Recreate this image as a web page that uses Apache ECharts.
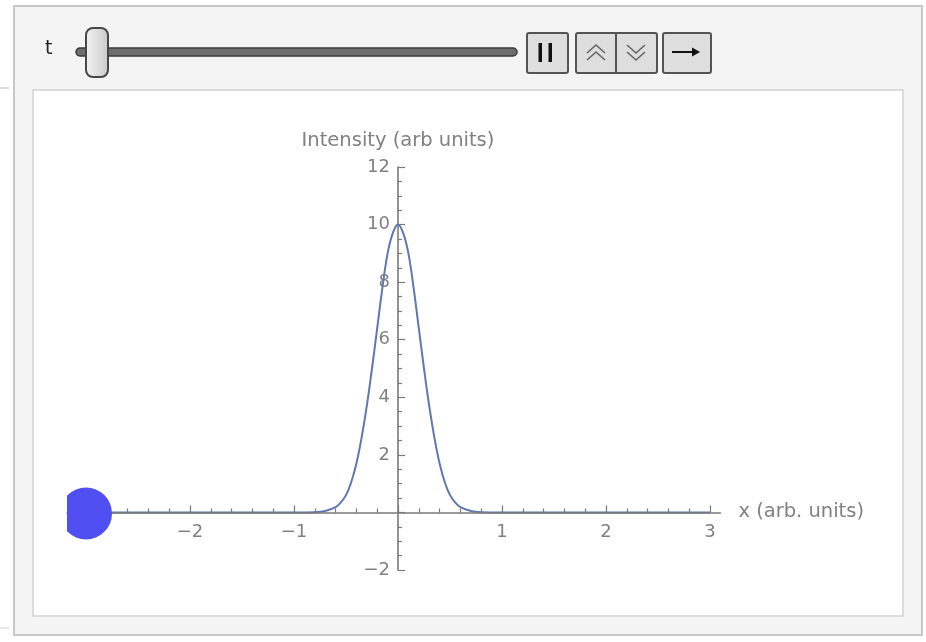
<!DOCTYPE html>
<html>
<head>
<meta charset="utf-8">
<script src="https://cdn.jsdelivr.net/npm/echarts@6/dist/echarts.min.js"></script>
<style>
  html, body { margin: 0; padding: 0; background: #fff; }
  #chart { width: 926px; height: 642px; }
</style>
</head>
<body>
<div id="chart"></div>
<script>
// pulse profile
const xValues = [-3, -1, -0.8, -0.7, -0.6, -0.55, -0.5, -0.45, -0.4, -0.35, -0.3, -0.25, -0.2, -0.15, -0.1, -0.05, 0,
  0.05, 0.1, 0.15, 0.2, 0.25, 0.3, 0.35, 0.4, 0.45, 0.5, 0.55, 0.6, 0.7, 0.8, 1, 3]
const intensity = [0, 0, 0.01, 0.05, 0.18, 0.35, 0.6, 1.05, 1.7, 2.6, 3.7, 5.0, 6.4, 7.8, 9.0, 9.7, 10,
  9.7, 9.0, 7.8, 6.4, 5.0, 3.7, 2.6, 1.7, 1.05, 0.6, 0.35, 0.18, 0.05, 0.01, 0, 0]

// the moving dot (t = 0)
const pointX = [-3]
const pointY = [0]

// ticks and labels
const xMajorTicks = [-3, -2, -1, 0, 1, 2, 3]
const xTickLabels = [-2, -1, 1, 2, 3]
const xMinorTicks = []
for (let i = -15; i <= 15; i++) if (i % 5) xMinorTicks.push(i / 5)
const yTickLabels = [-2, 2, 4, 6, 8, 10, 12]

const xMin = -3.18, xMax = 3.1
const yMin = -2, yMax = 12
const plotLeft = 67.28, plotRight = 720.4, plotTop = 167, plotBottom = 570

// axes cross at the origin, so shift them inward from the grid edges
const yAxisShift = -(plotRight - plotLeft) * (0 - xMin) / (xMax - xMin)
const xAxisShift = -(plotBottom - plotTop) * (0 - yMin) / (yMax - yMin)

const axisGray = '#7a7a7a'
const textGray = '#818181'
const font = 'DejaVu Sans'
const minus = (v) => String(v).replace('-', '\u2212')

const chart = echarts.init(document.getElementById('chart'))

const btn = { fill: '#dedede', stroke: '#545454', lineWidth: 2 }
const chevron = { fill: 'none', stroke: '#666', lineWidth: 1.6 }

const option = {
  animation: false,
  grid: { left: plotLeft, right: 926 - plotRight, top: plotTop, bottom: 642 - plotBottom, outerBoundsMode: 'none' },
  xAxis: [
    {
      type: 'value', min: xMin, max: xMax, position: 'bottom', offset: xAxisShift, z: 4,
      axisLine: { onZero: false, lineStyle: { color: axisGray, width: 1.6 } },
      axisTick: { customValues: xMajorTicks, inside: true, length: 7, lineStyle: { color: axisGray, width: 1.2 } },
      axisLabel: { customValues: xTickLabels, formatter: minus, margin: 11, color: textGray, fontSize: 18, fontFamily: font },
      splitLine: { show: false },
      name: 'x (arb. units)', nameLocation: 'end', nameGap: 18,
      nameTextStyle: { color: textGray, fontSize: 19.5, fontFamily: font }
    },
    {
      type: 'value', min: xMin, max: xMax, position: 'bottom', offset: xAxisShift, z: 4,
      axisLine: { onZero: false, lineStyle: { opacity: 0 } },
      axisTick: { customValues: xMinorTicks, inside: true, length: 4, lineStyle: { color: axisGray, width: 1.2 } },
      axisLabel: { show: false },
      splitLine: { show: false }
    }
  ],
  yAxis: {
    type: 'value', min: yMin, max: yMax, interval: 2, position: 'left', offset: yAxisShift,
    axisLine: { onZero: false, lineStyle: { color: axisGray, width: 1.6 } },
    axisTick: { inside: true, length: 7, lineStyle: { color: axisGray, width: 1.2 } },
    minorTick: { show: true, splitNumber: 4, length: 4, lineStyle: { color: axisGray, width: 1.2 } },
    axisLabel: { customValues: yTickLabels, formatter: minus, margin: 8, color: textGray, fontSize: 18, fontFamily: font },
    splitLine: { show: false },
    name: 'Intensity (arb units)', nameLocation: 'end', nameGap: 16,
    nameTextStyle: { color: textGray, fontSize: 19.5, fontFamily: font }
  },
  series: [
    {
      type: 'line',
      data: xValues.map((x, i) => [x, intensity[i]]),
      showSymbol: false,
      smooth: 0.4,
      lineStyle: { color: '#5f78b2', width: 2 },
      z: 3
    },
    {
      type: 'custom',
      clip: true,
      z: 6,
      data: pointX.map((x, i) => [x, pointY[i]]),
      renderItem: (params, api) => {
        const p = api.coord([api.value(0), api.value(1)])
        return { type: 'circle', shape: { cx: p[0], cy: p[1] + 1, r: 26 }, style: { fill: '#5050f2' } }
      }
    }
  ],
  graphic: [
    // panel and plot frame
    { type: 'rect', z: -10, shape: { x: 14, y: 6, width: 908, height: 629 }, style: { fill: '#f4f4f4', stroke: '#c8c8c8', lineWidth: 2 } },
    { type: 'rect', z: -9, shape: { x: 33, y: 90, width: 870, height: 526 }, style: { fill: '#fff', stroke: '#d2d2d2', lineWidth: 1.5 } },
    { type: 'line', z: -9, shape: { x1: 0, y1: 88, x2: 9, y2: 88 }, style: { stroke: '#d0d0d0', lineWidth: 1.5 } },
    { type: 'line', z: -9, shape: { x1: 0, y1: 628, x2: 9, y2: 628 }, style: { stroke: '#e0e0e0', lineWidth: 1.5 } },

    // t slider
    { type: 'text', z: 10, style: { x: 45, y: 49, text: 't', fill: '#222', font: '19px "DejaVu Sans"', verticalAlign: 'middle' } },
    { type: 'rect', z: 10, shape: { x: 76, y: 48, width: 441, height: 8, r: 4 }, style: { fill: '#6e6e6e', stroke: '#3a3a3a', lineWidth: 1.5 } },
    {
      type: 'rect', z: 11, shape: { x: 86, y: 28, width: 22, height: 49, r: 7 },
      style: {
        fill: new echarts.graphic.LinearGradient(0, 0, 1, 0, [{ offset: 0, color: '#f4f4f4' }, { offset: 1, color: '#c9c9c9' }]),
        stroke: '#474747', lineWidth: 2
      }
    },

    // pause
    { type: 'rect', z: 10, shape: { x: 527, y: 33, width: 41, height: 40, r: 2 }, style: btn },
    { type: 'rect', z: 11, shape: { x: 538.5, y: 43, width: 3.5, height: 19 }, style: { fill: '#111' } },
    { type: 'rect', z: 11, shape: { x: 548.5, y: 43, width: 3.5, height: 19 }, style: { fill: '#111' } },

    // faster / slower
    { type: 'rect', z: 10, shape: { x: 576, y: 33, width: 81, height: 40, r: 2 }, style: btn },
    { type: 'line', z: 11, shape: { x1: 616, y1: 33, x2: 616, y2: 73 }, style: { stroke: '#545454', lineWidth: 2 } },
    { type: 'polyline', z: 11, shape: { points: [[587, 53], [596, 45], [605, 53]] }, style: chevron },
    { type: 'polyline', z: 11, shape: { points: [[587, 60], [596, 52], [605, 60]] }, style: chevron },
    { type: 'polyline', z: 11, shape: { points: [[627, 45], [636, 53], [645, 45]] }, style: chevron },
    { type: 'polyline', z: 11, shape: { points: [[627, 52], [636, 60], [645, 52]] }, style: chevron },

    // direction
    { type: 'rect', z: 10, shape: { x: 663, y: 33, width: 48, height: 40, r: 2 }, style: btn },
    { type: 'line', z: 11, shape: { x1: 672, y1: 52, x2: 694, y2: 52 }, style: { stroke: '#111', lineWidth: 2 } },
    { type: 'polygon', z: 11, shape: { points: [[692, 47.5], [700, 52], [692, 56.5]] }, style: { fill: '#111' } }
  ]
}
chart.setOption(option)
</script>
</body>
</html>
